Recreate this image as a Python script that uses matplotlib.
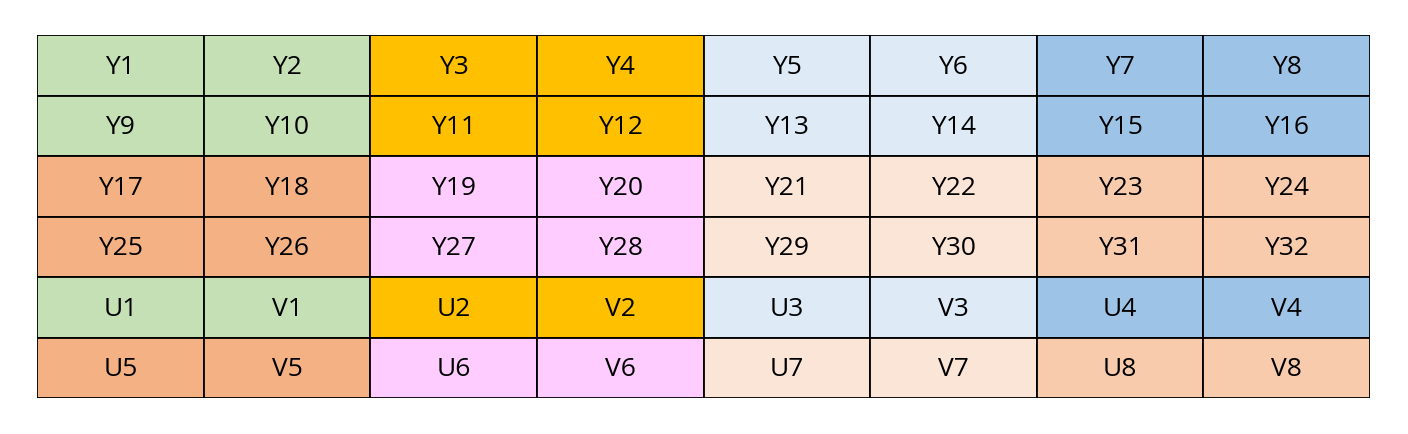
import matplotlib
matplotlib.use("Agg")
import matplotlib.pyplot as plt
from matplotlib.patches import Rectangle

labels = [
    ["Y1", "Y2", "Y3", "Y4", "Y5", "Y6", "Y7", "Y8"],
    ["Y9", "Y10", "Y11", "Y12", "Y13", "Y14", "Y15", "Y16"],
    ["Y17", "Y18", "Y19", "Y20", "Y21", "Y22", "Y23", "Y24"],
    ["Y25", "Y26", "Y27", "Y28", "Y29", "Y30", "Y31", "Y32"],
    ["U1", "V1", "U2", "V2", "U3", "V3", "U4", "V4"],
    ["U5", "V5", "U6", "V6", "U7", "V7", "U8", "V8"],
]
top_colors = ["#C5E0B4", "#FFC000", "#DEEBF7", "#9DC3E6"]
bottom_colors = ["#F4B183", "#FFCCFF", "#FBE5D6", "#F8CBAD"]
row_group = [0, 0, 1, 1, 0, 1]  # 0 = top palette, 1 = bottom palette

W, H = 1408, 434
fig = plt.figure(figsize=(W / 100, H / 100), dpi=100)
ax = fig.add_axes([37 / W, 1 - 398 / H, 1333 / W, 363 / H])
nrows, ncols = len(labels), len(labels[0])
ax.set_xlim(0, ncols)
ax.set_ylim(nrows, 0)
ax.axis("off")
for r in range(nrows):
    pal = top_colors if row_group[r] == 0 else bottom_colors
    for c in range(ncols):
        ax.add_patch(Rectangle((c, r), 1, 1, facecolor=pal[c // 2],
                               edgecolor="black", linewidth=1.3))
        ax.text(c + 0.5, r + 0.53, labels[r][c], ha="center", va="center",
                fontsize=19, family=["Open Sans", "DejaVu Sans"])
fig.savefig("out.png", dpi=100)
